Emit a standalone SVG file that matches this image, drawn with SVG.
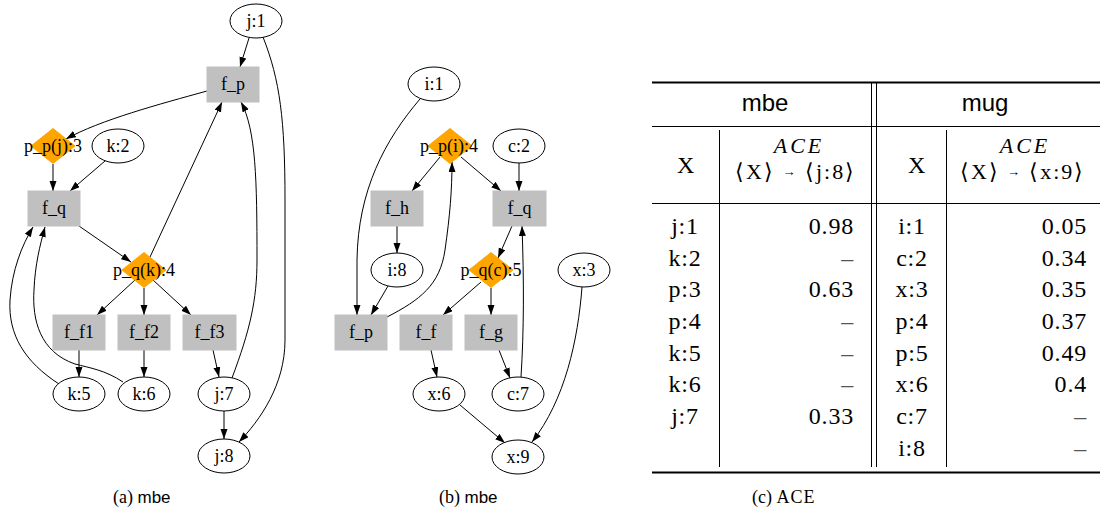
<svg xmlns="http://www.w3.org/2000/svg" width="1101" height="512" viewBox="0 0 1101 512">
<style>
.ell{fill:#fff;stroke:#000;stroke-width:1}
.box{fill:#c0c0c0;stroke:#c0c0c0;stroke-width:1}
.dia{fill:#ffa500;stroke:#ffa500;stroke-width:1}
.lbl{font-family:"Liberation Serif",serif;font-size:18px;text-anchor:middle;fill:#000}
.e{fill:none;stroke:#000;stroke-width:1;marker-end:url(#ah)}
.rule{stroke:#000}
.cell{font-family:"Liberation Serif",serif;font-size:24px;fill:#000;letter-spacing:0.8px}
.mid{text-anchor:middle}
.end{text-anchor:end}
.sans{font-family:"Liberation Sans","DejaVu Sans",sans-serif;letter-spacing:0}
.cap{font-family:"Liberation Serif",serif;font-size:18px;fill:#000}
.dash{fill:#555}
.ace{font-style:italic;letter-spacing:3px;font-size:22px}
.br{font-size:22px}
</style>
<defs>
<marker id="ah" markerUnits="userSpaceOnUse" markerWidth="10" markerHeight="8" refX="10" refY="3.5" orient="auto">
<path d="M0,0 L10,3.5 L0,7 z" fill="#000"/>
</marker>
</defs>

<g id="connectors">
<!-- graph a -->
<path class="e" d="M249,38 L240,67"/>
<path class="e" d="M263,37 C280,80 285,120 285,200 L285,340 C285,385 260,420 239,442"/>
<path class="e" d="M207,91 C160,104 100,120 66,139"/>
<path class="e" d="M105,161 L70,191"/>
<path class="e" d="M53,164 L53,191"/>
<path class="e" d="M79,226 L131,262"/>
<path class="e" d="M150,257 L222,102"/>
<path class="e" d="M135,280 L97,315"/>
<path class="e" d="M144,288 L144,315"/>
<path class="e" d="M153,280 L191,315"/>
<path class="e" d="M79,350 L79,377"/>
<path class="e" d="M144,350 L144,377"/>
<path class="e" d="M213,350 L219,377"/>
<path class="e" d="M224,411 L224,439"/>
<path class="e" d="M232,378 C250,330 257,300 257,260 C257,180 256,130 241,102"/>
<path class="e" d="M59,384 C25,362 8,335 10,300 C12,270 22,245 33,227"/>
<path class="e" d="M123,382 C105,370 90,368 75,364 C40,352 32,320 34,290 C35,265 40,245 45,227"/>
<!-- graph b -->
<path class="e" d="M420,99 C385,140 358,190 357,260 L357,315"/>
<path class="e" d="M388,286 L371,315"/>
<path class="e" d="M387,317 C420,300 440,285 445,250 C450,215 452,190 452,162"/>
<path class="e" d="M440,157 L412,191"/>
<path class="e" d="M461,157 L501,191"/>
<path class="e" d="M519,163 L519,191"/>
<path class="e" d="M397,226 L397,253"/>
<path class="e" d="M512,226 L498,258"/>
<path class="e" d="M521,377 C524,330 524,280 522,226"/>
<path class="e" d="M481,282 L443,315"/>
<path class="e" d="M491,288 L491,315"/>
<path class="e" d="M431,350 L437,377"/>
<path class="e" d="M499,350 L510,378"/>
<path class="e" d="M460,405 L505,443"/>
<path class="e" d="M582,287 C578,340 565,400 532,442"/>
</g>

<!-- graph a nodes -->
<g id="a_j1"><ellipse class="ell" cx="256" cy="21" rx="26" ry="17"/><text class="lbl" x="256" y="27">j:1</text></g>
<g id="a_fp"><rect class="box" x="207" y="67" width="52" height="35"/><text class="lbl" x="233" y="90">f_p</text></g>
<g id="a_pp3"><polygon class="dia" points="53,128.5 75,146 53,163.5 31,146"/><text class="lbl" x="53" y="152">p_p(j):3</text></g>
<g id="a_k2"><ellipse class="ell" cx="118" cy="146" rx="26" ry="17"/><text class="lbl" x="118" y="152">k:2</text></g>
<g id="a_fq"><rect class="box" x="28" y="191" width="52" height="35"/><text class="lbl" x="54" y="214">f_q</text></g>
<g id="a_pq4"><polygon class="dia" points="144,252.5 166,270 144,287.5 122,270"/><text class="lbl" x="144" y="276">p_q(k):4</text></g>
<g id="a_ff1"><rect class="box" x="53" y="315" width="52" height="35"/><text class="lbl" x="79" y="338">f_f1</text></g>
<g id="a_ff2"><rect class="box" x="118" y="315" width="52" height="35"/><text class="lbl" x="144" y="338">f_f2</text></g>
<g id="a_ff3"><rect class="box" x="183" y="315" width="53" height="35"/><text class="lbl" x="209.5" y="338">f_f3</text></g>
<g id="a_k5"><ellipse class="ell" cx="79" cy="394" rx="26" ry="17"/><text class="lbl" x="79" y="400">k:5</text></g>
<g id="a_k6"><ellipse class="ell" cx="144" cy="394" rx="26" ry="17"/><text class="lbl" x="144" y="400">k:6</text></g>
<g id="a_j7"><ellipse class="ell" cx="224" cy="394" rx="26" ry="17"/><text class="lbl" x="224" y="400">j:7</text></g>
<g id="a_j8"><ellipse class="ell" cx="224" cy="456" rx="26" ry="17"/><text class="lbl" x="224" y="462">j:8</text></g>

<!-- graph b nodes -->
<g id="b_i1"><ellipse class="ell" cx="434" cy="84" rx="26" ry="17"/><text class="lbl" x="434" y="90">i:1</text></g>
<g id="b_pp4"><polygon class="dia" points="450,128.5 472,146 450,163.5 428,146"/><text class="lbl" x="449" y="152">p_p(i):4</text></g>
<g id="b_c2"><ellipse class="ell" cx="519" cy="146" rx="26" ry="17"/><text class="lbl" x="519" y="152">c:2</text></g>
<g id="b_fh"><rect class="box" x="371" y="191" width="52" height="35"/><text class="lbl" x="397" y="214">f_h</text></g>
<g id="b_fq"><rect class="box" x="493" y="191" width="53" height="35"/><text class="lbl" x="519.5" y="214">f_q</text></g>
<g id="b_i8"><ellipse class="ell" cx="397" cy="270" rx="26" ry="17"/><text class="lbl" x="397" y="276">i:8</text></g>
<g id="b_pq5"><polygon class="dia" points="491,252.5 513,270 491,287.5 469,270"/><text class="lbl" x="491" y="276">p_q(c):5</text></g>
<g id="b_x3"><ellipse class="ell" cx="584" cy="270" rx="26" ry="17"/><text class="lbl" x="584" y="276">x:3</text></g>
<g id="b_fp"><rect class="box" x="335" y="315" width="52" height="35"/><text class="lbl" x="361" y="338">f_p</text></g>
<g id="b_ff"><rect class="box" x="400" y="315" width="52" height="35"/><text class="lbl" x="426" y="338">f_f</text></g>
<g id="b_fg"><rect class="box" x="465" y="315" width="52" height="35"/><text class="lbl" x="491" y="338">f_g</text></g>
<g id="b_x6"><ellipse class="ell" cx="439" cy="394" rx="26" ry="17"/><text class="lbl" x="439" y="400">x:6</text></g>
<g id="b_c7"><ellipse class="ell" cx="518" cy="394" rx="26" ry="17"/><text class="lbl" x="518" y="400">c:7</text></g>
<g id="b_x9"><ellipse class="ell" cx="518" cy="457" rx="26" ry="17"/><text class="lbl" x="518" y="463">x:9</text></g>

<!-- captions -->
<text class="cap" x="113" y="503">(a) <tspan class="sans" font-size="17">mbe</tspan></text>
<text class="cap" x="439" y="503">(b) <tspan class="sans" font-size="17">mbe</tspan></text>
<text class="cap" x="752" y="503">(c) <tspan letter-spacing="1">ACE</tspan></text>

<!-- table -->
<g id="table">
<line class="rule" x1="652" y1="82.5" x2="1100" y2="82.5" stroke-width="2"/>
<line class="rule" x1="652" y1="126.5" x2="1100" y2="126.5" stroke-width="1"/>
<line class="rule" x1="652" y1="203.5" x2="1100" y2="203.5" stroke-width="1"/>
<line class="rule" x1="652" y1="472.5" x2="1100" y2="472.5" stroke-width="2"/>
<line class="rule" x1="871.5" y1="83" x2="871.5" y2="467" stroke-width="1"/>
<line class="rule" x1="876.5" y1="83" x2="876.5" y2="467" stroke-width="1"/>
<line class="rule" x1="719.5" y1="130" x2="719.5" y2="467" stroke-width="1"/>
<line class="rule" x1="946.5" y1="130" x2="946.5" y2="467" stroke-width="1"/>

<text class="cell sans mid" x="765" y="111" font-size="21">mbe</text>
<text class="cell sans mid" x="985" y="111" font-size="21">mug</text>

<text class="cell mid" x="686" y="173">X</text>
<text class="cell mid ace" x="799" y="153">ACE</text>
<text class="cell mid br" x="795" y="179" textLength="120" lengthAdjust="spacing">⟨X⟩ <tspan font-size="13" dy="-3">→</tspan><tspan dy="3"> ⟨j:8⟩</tspan></text>
<text class="cell mid" x="917" y="173">X</text>
<text class="cell mid ace" x="1025" y="153">ACE</text>
<text class="cell mid br" x="1022" y="179" textLength="124" lengthAdjust="spacing">⟨X⟩ <tspan font-size="13" dy="-3">→</tspan><tspan dy="3"> ⟨x:9⟩</tspan></text>

<g class="cell mid">
<text x="685" y="234">j:1</text>
<text x="685" y="265.5">k:2</text>
<text x="685" y="297">p:3</text>
<text x="685" y="329">p:4</text>
<text x="685" y="360.5">k:5</text>
<text x="685" y="392">k:6</text>
<text x="685" y="424">j:7</text>
<text x="912" y="234">i:1</text>
<text x="912" y="265.5">c:2</text>
<text x="912" y="297">x:3</text>
<text x="912" y="329">p:4</text>
<text x="912" y="360.5">p:5</text>
<text x="912" y="392">x:6</text>
<text x="912" y="424">c:7</text>
<text x="912" y="455.5">i:8</text>
</g>
<g class="cell end">
<text x="854" y="234">0.98</text>
<text x="854" y="265.5" class="dash">–</text>
<text x="854" y="297">0.63</text>
<text x="854" y="329" class="dash">–</text>
<text x="854" y="360.5" class="dash">–</text>
<text x="854" y="392" class="dash">–</text>
<text x="854" y="424">0.33</text>
<text x="1087" y="234">0.05</text>
<text x="1087" y="265.5">0.34</text>
<text x="1087" y="297">0.35</text>
<text x="1087" y="329">0.37</text>
<text x="1087" y="360.5">0.49</text>
<text x="1087" y="392">0.4</text>
<text x="1087" y="424" class="dash">–</text>
<text x="1087" y="455.5" class="dash">–</text>
</g>
</g>
</svg>
